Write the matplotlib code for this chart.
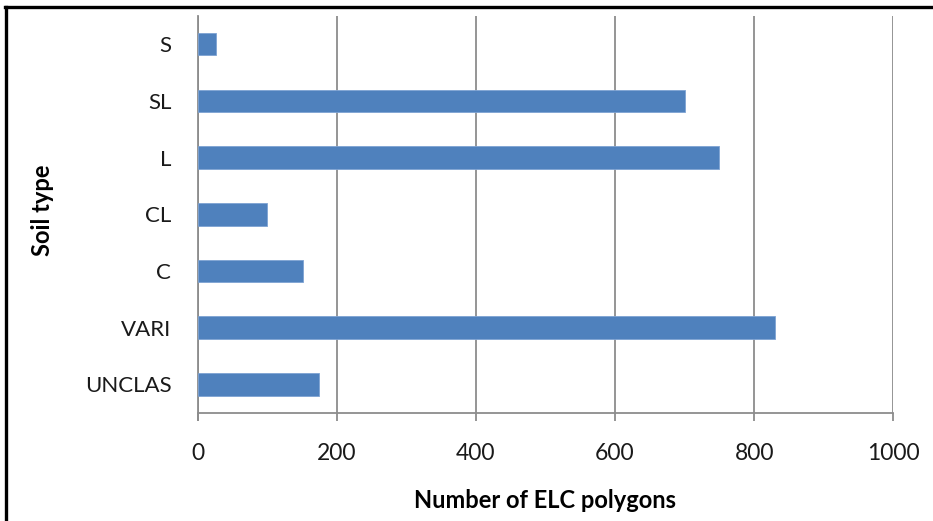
import numpy as np
import matplotlib.pyplot as plt
from matplotlib.lines import Line2D

# Soil types, listed top to bottom as they appear on the chart
soil_types = ["S", "SL", "L", "CL", "C", "VARI", "UNCLAS"]
polygon_counts = [26, 701, 750, 100, 151, 830, 175]
x_ticks = [0, 200, 400, 600, 800, 1000]

BAR_COLOR = "#4F81BD"
GRID_COLOR = "#8c8c8c"

plt.rcParams['font.family'] = ['Lato', 'DejaVu Sans']

W, H = 933, 521
fig = plt.figure(figsize=(W / 100, H / 100), dpi=100)
fig.patch.set_facecolor("white")

# axes box in pixels: left 198, right 893, top 16, bottom 413
left, right, top, bottom = 197.7, 893.3, 15.8, 412.7
ax = fig.add_axes([left / W, 1 - bottom / H, (right - left) / W, (bottom - top) / H])

ypos = np.arange(len(soil_types))
ax.barh(ypos, polygon_counts, height=0.4, color=BAR_COLOR,
        edgecolor="#7ea3d3", linewidth=0.6, zorder=3)

ax.set_xlim(0, 1000)
ax.set_ylim(len(soil_types) - 0.5, -0.5)
ax.set_xticks(x_ticks)
ax.set_xticklabels([str(t) for t in x_ticks])
ax.set_yticks(ypos)
ax.set_yticklabels(soil_types)

ax.grid(axis="x", color=GRID_COLOR, linewidth=1.3, zorder=0)
ax.grid(axis="y", visible=False)

for side in ["top", "right"]:
    ax.spines[side].set_visible(False)
for side in ["left", "bottom"]:
    ax.spines[side].set_color(GRID_COLOR)
    ax.spines[side].set_linewidth(1.3)
ax.spines["left"].set_bounds(len(soil_types) - 0.5 + 0.13, -0.5)

ax.tick_params(axis="x", direction="out", length=6, width=1.3, color=GRID_COLOR,
               pad=16, labelsize=16.5, labelcolor="#1a1a1a")
ax.tick_params(axis="y", length=0, pad=19, labelsize=16, labelcolor="#1a1a1a")

fig.text(545.5 / W, 1 - 508 / H, "Number of ELC polygons", ha="center",
         va="baseline", fontsize=17, fontweight="bold", color="black")
fig.text(42 / W, 1 - 210 / H, "Soil type", ha="center", va="center",
         rotation=90, fontsize=17, fontweight="bold", color="black")

# black frame along the top and left edges
fig.add_artist(Line2D([6 / W, 6 / W], [0, 1 - 6.5 / H], transform=fig.transFigure,
                      color="black", linewidth=2.4))
fig.add_artist(Line2D([4.8 / W, 1], [1 - 6.5 / H, 1 - 6.5 / H], transform=fig.transFigure,
                      color="black", linewidth=2.4))

fig.savefig("out.png", dpi=100)
